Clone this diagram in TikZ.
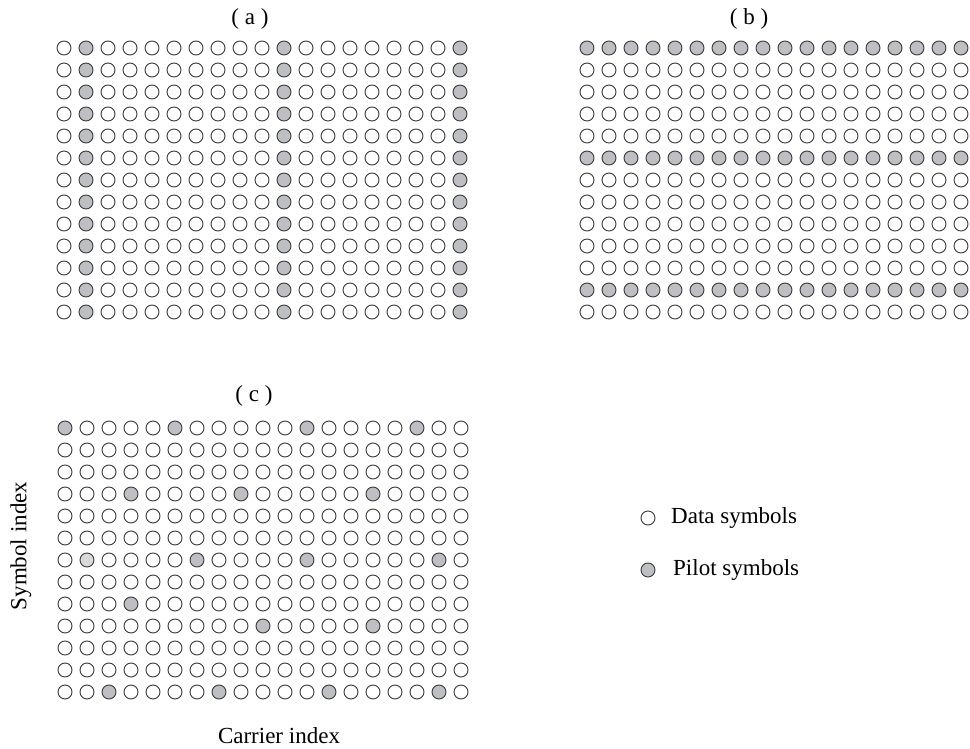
\documentclass[tikz,border=0pt]{standalone}
\usepackage{fontspec}
\setmainfont{Liberation Serif}
\definecolor{pilot}{HTML}{BEBFC3}
\definecolor{pilotlight}{HTML}{D9D9DB}
\definecolor{edge}{HTML}{3A3A3A}
\tikzset{
  sym/.style={circle, draw=edge, line width=0.9pt, minimum size=14pt, inner sep=0pt},
  lbl/.style={font=\fontsize{23}{27}\selectfont, inner sep=0pt},
}
\newcommand\markpilot[3]{\expandafter\def\csname pl#1-#2-#3\endcsname{pilot}}
\markpilot{c}{1}{1}\markpilot{c}{1}{6}\markpilot{c}{1}{12}\markpilot{c}{1}{17}
\markpilot{c}{4}{4}\markpilot{c}{4}{9}\markpilot{c}{4}{15}
\markpilot{c}{7}{7}\markpilot{c}{7}{12}\markpilot{c}{7}{18}
\expandafter\def\csname plc-7-2\endcsname{pilotlight}
\markpilot{c}{9}{4}
\markpilot{c}{10}{10}\markpilot{c}{10}{15}
\markpilot{c}{13}{3}\markpilot{c}{13}{8}\markpilot{c}{13}{13}\markpilot{c}{13}{18}
\begin{document}
\begin{tikzpicture}[x=1pt,y=-1pt]
\useasboundingbox (0,0) rectangle (970,749);
% grid (a): pilots in carriers 2, 11, 19
\foreach \r in {1,...,13}{\foreach \c in {1,...,19}{
  \def\fc{white}%
  \ifnum\c=2 \def\fc{pilot}\fi
  \ifnum\c=11 \def\fc{pilot}\fi
  \ifnum\c=19 \def\fc{pilot}\fi
  \node[sym, fill=\fc] (a-\r-\c) at ({64+22*(\c-1)},{48+22*(\r-1)}) {};
}}
% grid (b): pilots in symbols 1, 6, 12
\foreach \r in {1,...,13}{\foreach \c in {1,...,18}{
  \def\fc{white}%
  \ifnum\r=1 \def\fc{pilot}\fi
  \ifnum\r=6 \def\fc{pilot}\fi
  \ifnum\r=12 \def\fc{pilot}\fi
  \node[sym, fill=\fc] (b-\r-\c) at ({587+22*(\c-1)},{48+22*(\r-1)}) {};
}}
% grid (c): scattered pilots
\foreach \r in {1,...,13}{\foreach \c in {1,...,19}{
  \def\fc{white}%
  \ifcsname plc-\r-\c\endcsname \edef\fc{\csname plc-\r-\c\endcsname}\fi
  \node[sym, fill=\fc] (c-\r-\c) at ({65+22*(\c-1)},{428+22*(\r-1)}) {};
}}
% labels
\node[lbl] (la) at (250,19) {( a )};
\node[lbl] (lb) at (749,19) {( b )};
\node[lbl] (lc) at (254,396) {( c )};
\node[lbl, rotate=90] (ysym) at (21,546) {Symbol index};
\node[lbl] (xcar) at (279,736) {Carrier index};
% legend
\node[sym, fill=white] (legd) at (648,518) {};
\node[sym, fill=pilot] (legp) at (648,570) {};
\node[lbl, anchor=west] (legdt) at (671,518) {Data symbols};
\node[lbl, anchor=west] (legpt) at (673,570) {Pilot symbols};
\end{tikzpicture}
\end{document}
